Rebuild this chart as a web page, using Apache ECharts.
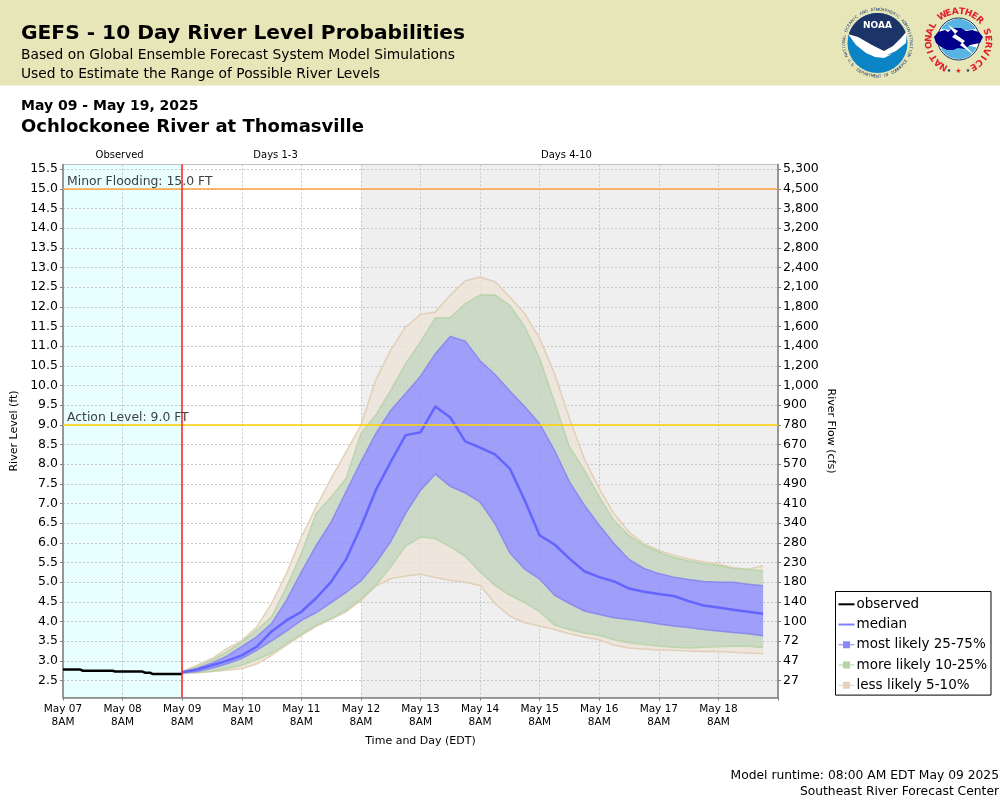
<!DOCTYPE html>
<html>
<head>
<meta charset="utf-8">
<title>GEFS River Level Probabilities</title>
<script src="https://cdn.jsdelivr.net/npm/echarts@6/dist/echarts.min.js"></script>
<style>
  html, body { margin: 0; padding: 0; background: #fff; }
  #chart { width: 1000px; height: 800px; }
</style>
</head>
<body>
<div id="chart"></div>
<script>
// hours since May 07 8AM
const obsHours = [0,1,2,3,4,5,6,7,8,9,10,11,12,13,14,15,16,17,18,19,20,21,22,23,24,25,26,27,28,29,30,31,32,33,34,35,36,37,38,39,40,41,42,43,44,45,46,47,48];
const observed = [2.78,2.78,2.78,2.78,2.78,2.78,2.78,2.78,2.75,2.75,2.75,2.75,2.75,2.75,2.75,2.75,2.75,2.75,2.75,2.75,2.75,2.73,2.73,2.73,2.73,2.73,2.73,2.73,2.73,2.73,2.73,2.73,2.73,2.70,2.70,2.70,2.67,2.67,2.67,2.67,2.67,2.67,2.67,2.67,2.67,2.67,2.67,2.67,2.67];

const fcstHours = [48,54,60,66,72,78,84,90,96,102,108,114,120,126,132,138,144,150,156,162,168,174,180,186,192,198,204,210,216,222,228,234,240,246,252,258,264,270,276,282];
const p50 = [2.71,2.78,2.89,3.0,3.14,3.36,3.75,4.03,4.25,4.6,5.01,5.58,6.41,7.34,8.06,8.74,8.81,9.47,9.19,8.58,8.42,8.25,7.89,7.08,6.19,5.96,5.6,5.28,5.13,5.02,4.84,4.76,4.7,4.65,4.52,4.41,4.36,4.3,4.25,4.2];
const p75 = [2.71,2.81,2.95,3.12,3.36,3.61,3.95,4.54,5.26,5.94,6.53,7.3,8.06,8.78,9.37,9.8,10.24,10.81,11.25,11.13,10.63,10.28,9.86,9.46,9.03,8.35,7.55,6.96,6.45,5.98,5.58,5.35,5.22,5.13,5.07,5.02,5.0,5.0,4.95,4.91];
const p25 = [2.69,2.73,2.81,2.93,3.06,3.27,3.51,3.76,4.03,4.23,4.48,4.74,5.03,5.49,6.03,6.75,7.34,7.75,7.44,7.27,7.04,6.49,5.75,5.33,5.08,4.67,4.46,4.27,4.18,4.1,4.05,4.0,3.94,3.89,3.85,3.8,3.76,3.72,3.69,3.64];
const p90 = [2.72,2.85,3.02,3.23,3.48,3.78,4.12,4.88,5.73,6.75,7.17,7.64,8.78,9.25,9.88,10.56,11.11,11.72,11.73,12.08,12.3,12.3,12.04,11.49,10.69,9.58,8.44,7.85,7.17,6.56,6.19,5.94,5.77,5.63,5.54,5.47,5.42,5.35,5.32,5.29];
const p10 = [2.69,2.71,2.74,2.81,2.89,3.03,3.2,3.44,3.68,3.91,4.08,4.29,4.58,4.92,5.39,5.92,6.15,6.11,5.9,5.66,5.26,4.92,4.67,4.48,4.25,3.91,3.8,3.71,3.65,3.54,3.46,3.42,3.38,3.35,3.33,3.35,3.36,3.38,3.37,3.34];
const p95 = [2.73,2.89,3.06,3.31,3.51,3.86,4.46,5.22,6.15,6.92,7.64,8.31,8.99,10.14,10.9,11.49,11.81,11.87,12.3,12.66,12.76,12.64,12.25,11.83,11.2,10.3,9.16,8.14,7.38,6.74,6.28,5.98,5.81,5.69,5.59,5.52,5.46,5.37,5.33,5.42];
const p5 = [2.69,2.69,2.73,2.76,2.81,2.92,3.14,3.4,3.65,3.88,4.06,4.25,4.54,4.9,5.09,5.16,5.2,5.12,5.05,5.0,4.92,4.46,4.14,3.97,3.89,3.8,3.69,3.61,3.54,3.4,3.33,3.3,3.28,3.27,3.25,3.24,3.24,3.22,3.2,3.18];

const stageTicks = [2.5,3,3.5,4,4.5,5,5.5,6,6.5,7,7.5,8,8.5,9,9.5,10,10.5,11,11.5,12,12.5,13,13.5,14,14.5,15,15.5];
const flowTicks = ["27","47","72","100","140","180","230","280","340","410","490","570","670","780","900","1,000","1,200","1,400","1,600","1,800","2,100","2,400","2,800","3,200","3,800","4,500","5,300"];
const dayLabels = ["May 07","May 08","May 09","May 10","May 11","May 12","May 13","May 14","May 15","May 16","May 17","May 18"];

const FONT = "'DejaVu Sans', sans-serif";
const chart = echarts.init(document.getElementById("chart"));

// legend glyphs: the empty corners keep the bar thin when the path is scaled to the item box
const ICON_LINE = "path://M0 0L0 0 M0 7H16V9H0Z M16 16L16 16";
const ICON_BAND = "path://M0 0L0 0 M4.5 4.5H11.5V7.5H16V8.5H11.5V11.5H4.5V8.5H0V7.5H4.5Z M16 16L16 16";

// band between two outer curves, with the inner curves cut out so the alpha does not add up
function bandSeries(name, fill, edge, lowOuter, lowInner, hiInner, hiOuter, z) {
  return {
    name: name,
    type: "custom",
    z: z,
    itemStyle: { color: edge },
    data: fcstHours.map((h, i) => [h, p50[i]]),
    encode: { x: 0, y: 1 },
    renderItem: function (params, api) {
      if (params.dataIndex !== 0) return null;
      const curve = arr => fcstHours.map((h, i) => api.coord([h, arr[i]]));
      const shapes = [];
      const poly = (a, b) => shapes.push({
        type: "polygon",
        shape: { points: curve(a).concat(curve(b).reverse()) },
        style: { fill: fill, stroke: null }
      });
      const edgeLine = a => shapes.push({
        type: "polyline",
        shape: { points: curve(a) },
        style: { fill: null, stroke: edge, lineWidth: 1.5 }
      });
      if (lowInner) {
        poly(lowOuter, lowInner);
        poly(hiInner, hiOuter);
      } else {
        poly(lowOuter, hiOuter);
      }
      edgeLine(lowOuter);
      edgeLine(hiOuter);
      return { type: "group", children: shapes };
    }
  };
}

// characters along a circle, deg is clockwise from the top
function ringTop(str, cx, cy, r, from, to, font, color) {
  const step = (to - from) / (str.length - 1);
  return str.split("").map((c, i) => {
    const a = (from + i * step) * Math.PI / 180;
    return { type: "text", x: cx + r * Math.sin(a), y: cy - r * Math.cos(a), rotation: -a,
      style: { text: c, font: font, fill: color, align: "center", verticalAlign: "middle" } };
  });
}
function ringBottom(str, cx, cy, r, from, to, font, color) {
  const step = (to - from) / (str.length - 1);
  return str.split("").map((c, i) => {
    const a = (from + i * step) * Math.PI / 180;
    return { type: "text", x: cx + r * Math.sin(a), y: cy + r * Math.cos(a), rotation: a,
      style: { text: c, font: font, fill: color, align: "center", verticalAlign: "middle" } };
  });
}
function txt(text, x, y, font, align) {
  return { type: "text", x: x, y: y, style: { text: text, font: font, fill: "#000", align: align || "left", verticalAlign: "middle" } };
}
// points on an arc, deg clockwise from the top
function arc(cx, cy, r, from, to) {
  const pts = [];
  for (let d = from; d <= to; d += 6) {
    const a = d * Math.PI / 180;
    pts.push([cx + r * Math.sin(a), cy - r * Math.cos(a)]);
  }
  return pts;
}
function shape(points, fill) {
  return { type: "polygon", shape: { points: points }, style: { fill: fill } };
}

const noaaLogo = [
  { type: "circle", shape: { cx: 877.5, cy: 43, r: 30 }, style: { fill: "#0b84c6" } },
  shape(arc(877.5, 43, 30, -76, 76).concat([[898, 42], [889, 50], [884, 52], [872, 46], [860, 38]]), "#1c3468"),
  shape([[848, 34], [858, 37], [872, 45], [884, 51], [893, 46], [901, 38], [907, 31], [906, 43], [896, 51], [887, 55], [892, 54], [884, 58], [875, 57], [866, 53], [856, 45]], "#fff"),
  { type: "text", x: 877.5, y: 25.5, style: { text: "NOAA", font: "bold 9px " + FONT, fill: "#fff", align: "center", verticalAlign: "middle" } },
  ...ringTop("NATIONAL OCEANIC AND ATMOSPHERIC ADMINISTRATION", 877.5, 43, 33.5, -112, 112, "4px " + FONT, "#1c3468"),
  ...ringBottom("U.S. DEPARTMENT OF COMMERCE", 877.5, 43, 33.5, -58, 58, "4px " + FONT, "#1c3468"),

  { type: "circle", shape: { cx: 958.5, cy: 39, r: 21 }, style: { fill: "#fff", stroke: "#18305e", lineWidth: 1 } },
  shape(arc(958.5, 39, 20, -60, 60).concat([[968, 30], [950, 30]]), "#58b4e0"),
  shape(arc(958.5, 39, 20, 115, 245).concat([[946, 46], [970, 46]]), "#58b4e0"),
  shape([[934, 37], [938, 32], [945, 30], [948, 32], [953, 28], [961, 28], [966, 31], [972, 30], [979, 32], [983, 37], [980, 43], [970, 45], [965, 49], [958, 48], [953, 50], [947, 50], [941, 47], [936, 43]], "#00008b"),
  shape([[948, 25], [958, 31], [955, 34], [965, 41], [963, 43], [974, 55], [960, 45], [962, 43], [952, 37], [955, 34]], "#fff"),
  ...ringTop("NATIONAL WEATHER SERVICE", 958.5, 41, 29.5, -150, 150, "bold 9px " + FONT, "#e0202a"),
  { type: "text", x: 958.5, y: 71, style: { text: "★", font: "7px " + FONT, fill: "#e0202a", align: "center", verticalAlign: "middle" } },
  { type: "text", x: 949, y: 70.5, style: { text: "★", font: "5px " + FONT, fill: "#18305e", align: "center", verticalAlign: "middle" } },
  { type: "text", x: 968, y: 70.5, style: { text: "★", font: "5px " + FONT, fill: "#18305e", align: "center", verticalAlign: "middle" } }
];

const option = {
  animation: false,
  textStyle: { fontFamily: FONT },
  grid: { left: 63, right: 222, top: 164.5, bottom: 102.5, show: true, borderColor: "#c0c0c0", borderWidth: 1, backgroundColor: "transparent" },
  graphic: [
    { type: "rect", z: -10, shape: { x: 0, y: 0, width: 1000, height: 85.5 }, style: { fill: "#e6e6b8" } },
    ...[
      txt("GEFS - 10 Day River Level Probabilities", 21, 34, "bold 20.2px " + FONT),
      txt("Based on Global Ensemble Forecast System Model Simulations", 21, 55, "13.8px " + FONT),
      txt("Used to Estimate the Range of Possible River Levels", 21, 74, "13.8px " + FONT),
      txt("May 09 - May 19, 2025", 21, 106, "bold 14px " + FONT),
      txt("Ochlockonee River at Thomasville", 21, 127, "bold 18px " + FONT),
      txt("Model runtime: 08:00 AM EDT May 09 2025", 999, 776, "12.3px " + FONT, "right"),
      txt("Southeast River Forecast Center", 999, 792, "12.3px " + FONT, "right"),
      Object.assign(txt("River Flow (cfs)", 831, 431, "11px " + FONT, "center"), { rotation: -Math.PI / 2 }),
      ...noaaLogo
    ].map(g => Object.assign(g, { z: 10 }))
  ],
  legend: {
    left: 835.5,
    top: 591.5,
    orient: "vertical",
    backgroundColor: "#fff",
    borderColor: "#000",
    borderWidth: 1,
    borderRadius: 0,
    padding: [4.8, 4, 1.8, 3],
    itemGap: 4.25,
    itemWidth: 16,
    itemHeight: 16,
    textStyle: { fontSize: 13.5, color: "#000", fontFamily: FONT, padding: [0, 0, 0, -3] },
    selectedMode: false,
    data: [
      { name: "observed", icon: ICON_LINE, itemStyle: { color: "#000" } },
      { name: "median", icon: ICON_LINE, itemStyle: { color: "#8080ff" } },
      { name: "most likely 25-75%", icon: ICON_BAND, itemStyle: { color: "#8888f8" } },
      { name: "more likely 10-25%", icon: ICON_BAND, itemStyle: { color: "#b4d4a4" } },
      { name: "less likely 5-10%", icon: ICON_BAND, itemStyle: { color: "#e4d2bc" } }
    ]
  },
  xAxis: {
    type: "value",
    min: 0,
    max: 288,
    interval: 24,
    name: "Time and Day (EDT)",
    nameLocation: "middle",
    nameGap: 38,
    nameTextStyle: { fontSize: 11, color: "#000" },
    axisLine: { onZero: false, lineStyle: { color: "#808080", width: 1.5 } },
    axisTick: { length: 3, lineStyle: { color: "#808080" } },
    axisLabel: {
      color: "#000",
      fontSize: 10.5,
      lineHeight: 13,
      margin: 5,
      showMaxLabel: true,
      formatter: v => dayLabels[v / 24] ? dayLabels[v / 24] + "\n8AM" : ""
    },
    splitLine: { show: true, lineStyle: { color: "#c6c6c6", type: [2, 2], width: 1 } }
  },
  yAxis: [
    {
      type: "value",
      min: 2.07,
      max: 15.62,
      name: "River Level (ft)",
      nameLocation: "middle",
      nameGap: 35,
      nameTextStyle: { fontSize: 11, color: "#000" },
      axisLine: { show: true, onZero: false, lineStyle: { color: "#808080", width: 1.5 } },
      axisTick: { show: true, length: 3, customValues: stageTicks, lineStyle: { color: "#808080" } },
      axisLabel: { color: "#000", fontSize: 12.5, margin: 5, customValues: stageTicks, formatter: v => v.toFixed(1) },
      splitLine: { show: true, lineStyle: { color: "#c6c6c6", type: [2, 2], width: 1 } }
    },
    {
      type: "value",
      position: "right",
      min: 2.07,
      max: 15.62,
      axisLine: { show: true, onZero: false, lineStyle: { color: "#808080", width: 1.5 } },
      axisTick: { show: true, length: 3, customValues: stageTicks, lineStyle: { color: "#808080" } },
      axisLabel: {
        color: "#000",
        fontSize: 12.5,
        margin: 5,
        customValues: stageTicks,
        formatter: v => flowTicks[stageTicks.indexOf(v)]
      },
      splitLine: { show: false }
    }
  ],
  series: [
    // shaded periods and their captions, kept under the grid lines
    {
      name: "periods",
      type: "line",
      z: -1,
      data: [],
      markArea: {
        z: -1,
        silent: true,
        label: { position: "top", distance: 4, color: "#000", fontSize: 10 },
        data: [
          [{ name: "Observed", xAxis: 0, itemStyle: { color: "#e8ffff" }, label: { offset: [-3, 0] } }, { xAxis: 48 }],
          [{ name: "Days 1-3", xAxis: 48, itemStyle: { color: "rgba(255,255,255,0)" }, label: { offset: [4, 0] } }, { xAxis: 120 }],
          [{ name: "Days 4-10", xAxis: 120, itemStyle: { color: "#efefef" }, label: { offset: [-3, 0] } }, { xAxis: 288 }]
        ]
      }
    },
    bandSeries("less likely 5-10%", "rgba(238,228,216,0.8)", "rgba(224,204,178,0.9)", p5, p10, p90, p95, 2),
    bandSeries("more likely 10-25%", "rgba(198,213,192,0.85)", "rgba(180,212,164,0.85)", p10, p25, p75, p90, 3),
    bandSeries("most likely 25-75%", "rgba(145,145,250,0.85)", "rgba(128,128,240,0.8)", p25, null, null, p75, 4),
    {
      name: "median",
      type: "line",
      z: 5,
      symbol: "none",
      lineStyle: { color: "#6464ff", width: 2.5 },
      itemStyle: { color: "#6464ff" },
      data: fcstHours.map((h, i) => [h, p50[i]])
    },
    {
      name: "observed",
      type: "line",
      z: 5,
      symbol: "none",
      lineStyle: { color: "#000", width: 2.5 },
      itemStyle: { color: "#000" },
      data: obsHours.map((h, i) => [h, observed[i]])
    },
    // flood levels and model start
    {
      name: "levels",
      type: "line",
      z: 6,
      data: [],
      markLine: {
        z: 6,
        silent: true,
        symbol: "none",
        animation: false,
        data: [
          { yAxis: 15, name: "Minor Flooding: 15.0 FT", lineStyle: { color: "#ffa040", width: 1.5, type: "solid" } },
          { yAxis: 9, name: "Action Level: 9.0 FT", lineStyle: { color: "#ffd000", width: 1.5, type: "solid" } },
          { xAxis: 48, name: "", lineStyle: { color: "#ff2020", width: 1.5, type: "solid" }, label: { show: false } }
        ],
        label: {
          position: "insideStartTop",
          formatter: "{b}",
          color: "#404040",
          fontSize: 12.4,
          distance: [4, 1]
        }
      }
    }
  ]
};

chart.setOption(option);
</script>
</body>
</html>
